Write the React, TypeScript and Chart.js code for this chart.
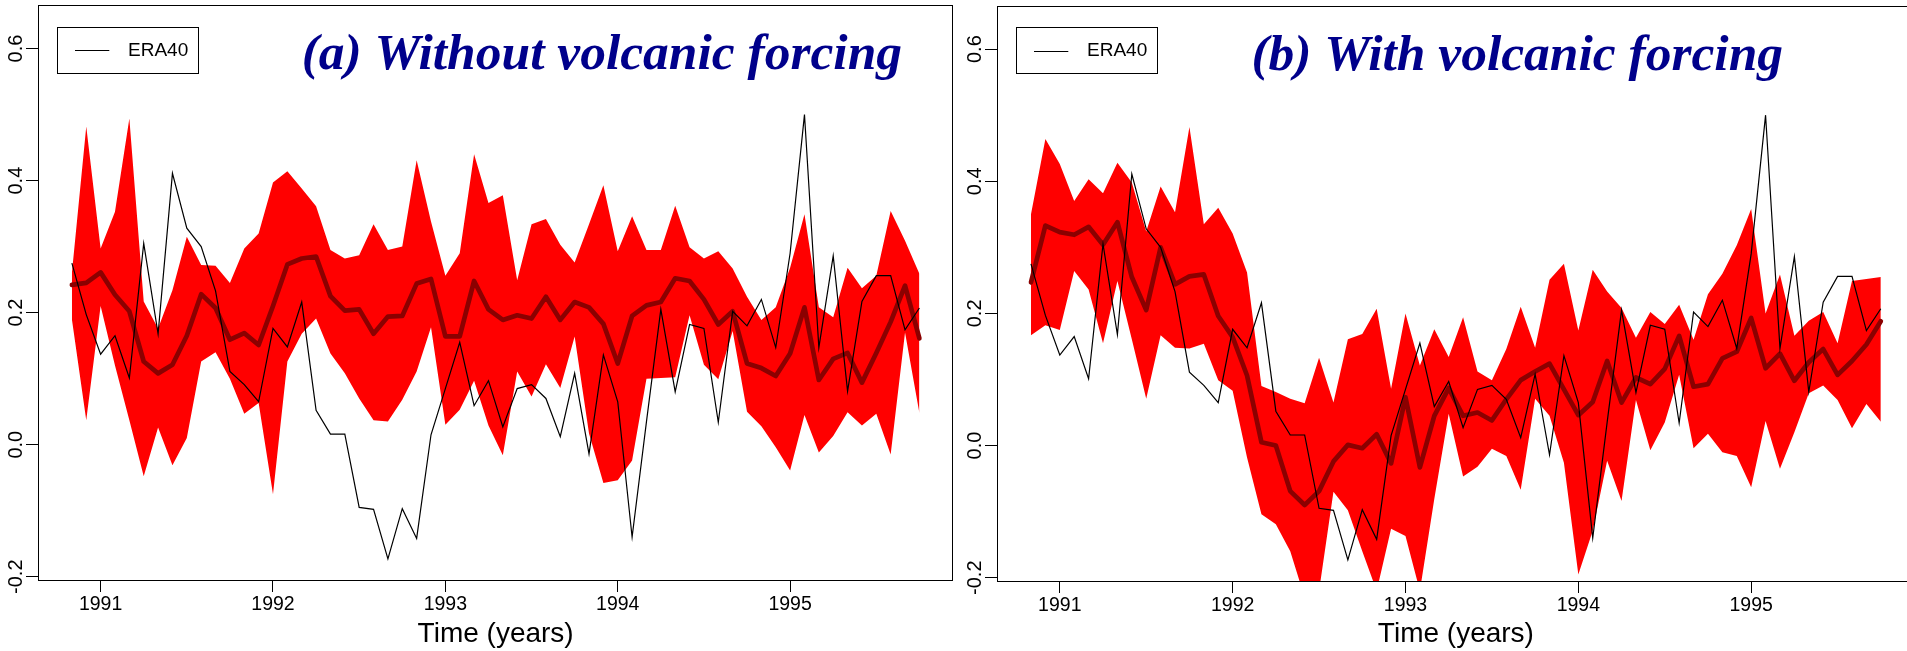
import React, { useEffect, useRef } from "react";
import { Chart, registerables } from "chart.js";

Chart.register(...registerables);

// ---------- data ----------
// monthly time axis: Nov 1990 .. Oct 1995
const startYear = 1990;
const startMonthIndex = 10; // November (0-based months / 12)
const monthCount = 60;
const times: number[] = Array.from({ length: monthCount }, (_, i) => startYear + (startMonthIndex + i) / 12);

const era40 = [
  0.275, 0.197, 0.137, 0.165, 0.101, 0.305, 0.168, 0.411, 0.328, 0.3,
  0.233, 0.111, 0.091, 0.065, 0.176, 0.148, 0.216, 0.052, 0.016, 0.016,
  -0.095, -0.098, -0.173, -0.097, -0.142, 0.015, 0.085, 0.155, 0.059, 0.097,
  0.027, 0.085, 0.091, 0.07, 0.012, 0.108, -0.014, 0.136, 0.065, -0.14,
  0.035, 0.205, 0.08, 0.182, 0.176, 0.034, 0.202, 0.18, 0.22, 0.147,
  0.29, 0.5, 0.147, 0.286, 0.081, 0.217, 0.256, 0.256, 0.174, 0.207,
];

// (a) without volcanic forcing: ensemble mean, upper and lower envelope
const noVolcMean = [
  0.242, 0.245, 0.261, 0.227, 0.202, 0.126, 0.108, 0.121, 0.165, 0.228,
  0.207, 0.159, 0.169, 0.151, 0.21, 0.273, 0.282, 0.285, 0.225, 0.203,
  0.205, 0.168, 0.194, 0.195, 0.244, 0.251, 0.164, 0.164, 0.248, 0.205,
  0.189, 0.196, 0.191, 0.224, 0.189, 0.216, 0.208, 0.183, 0.123, 0.195,
  0.211, 0.216, 0.252, 0.248, 0.22, 0.182, 0.202, 0.123, 0.116, 0.104,
  0.138, 0.208, 0.098, 0.13, 0.139, 0.094, 0.139, 0.186, 0.241, 0.161,
];
const noVolcUpper = [
  0.26, 0.482, 0.297, 0.353, 0.494, 0.217, 0.176, 0.234, 0.315, 0.272,
  0.271, 0.245, 0.297, 0.32, 0.397, 0.414, 0.388, 0.361, 0.295, 0.282,
  0.287, 0.334, 0.295, 0.3, 0.431, 0.338, 0.256, 0.29, 0.44, 0.366,
  0.378, 0.249, 0.334, 0.342, 0.303, 0.276, 0.334, 0.393, 0.293, 0.346,
  0.295, 0.295, 0.362, 0.299, 0.282, 0.293, 0.267, 0.224, 0.189, 0.208,
  0.268, 0.349, 0.208, 0.193, 0.268, 0.237, 0.256, 0.354, 0.309, 0.259,
];
const noVolcLower = [
  0.19, 0.037, 0.21, 0.12, 0.037, -0.048, 0.026, -0.031, 0.01, 0.126,
  0.14, 0.1, 0.047, 0.063, -0.075, 0.126, 0.168, 0.191, 0.138, 0.108,
  0.07, 0.037, 0.035, 0.068, 0.111, 0.178, 0.03, 0.053, 0.097, 0.029,
  -0.016, 0.111, 0.073, 0.122, 0.086, 0.164, 0.017, -0.058, -0.054, -0.024,
  0.1, 0.101, 0.102, 0.196, 0.121, 0.099, 0.172, 0.05, 0.028, -0.004,
  -0.039, 0.045, -0.012, 0.013, 0.049, 0.029, 0.047, -0.015, 0.17, 0.048,
];

// (b) with volcanic forcing
const volcMean = [
  0.247, 0.333, 0.323, 0.319, 0.331, 0.304, 0.338, 0.255, 0.205, 0.3,
  0.244, 0.256, 0.259, 0.196, 0.164, 0.106, 0.005, 0.0, -0.069, -0.09,
  -0.069, -0.024, 0.001, -0.004, 0.017, -0.027, 0.073, -0.033, 0.045, 0.087,
  0.045, 0.05, 0.038, 0.07, 0.099, 0.112, 0.124, 0.085, 0.046, 0.066,
  0.128, 0.065, 0.103, 0.093, 0.116, 0.166, 0.089, 0.093, 0.132, 0.142,
  0.193, 0.117, 0.139, 0.098, 0.126, 0.146, 0.107, 0.128, 0.153, 0.188,
];
const volcUpper = [
  0.35, 0.464, 0.426, 0.37, 0.403, 0.382, 0.428, 0.398, 0.324, 0.392,
  0.353, 0.482, 0.335, 0.36, 0.321, 0.262, 0.09, 0.081, 0.071, 0.064,
  0.133, 0.065, 0.161, 0.169, 0.207, 0.086, 0.2, 0.121, 0.176, 0.134,
  0.194, 0.112, 0.099, 0.146, 0.21, 0.148, 0.251, 0.275, 0.174, 0.266,
  0.233, 0.208, 0.163, 0.202, 0.184, 0.213, 0.16, 0.229, 0.26, 0.303,
  0.358, 0.2, 0.259, 0.166, 0.189, 0.202, 0.155, 0.249, 0.252, 0.255,
];
const volcLower = [
  0.167, 0.182, 0.175, 0.264, 0.236, 0.155, 0.249, 0.161, 0.071, 0.167,
  0.148, 0.147, 0.154, 0.099, 0.083, -0.018, -0.104, -0.119, -0.16, -0.23,
  -0.22, -0.07, -0.098, -0.16, -0.22, -0.126, -0.137, -0.22, -0.081, 0.048,
  -0.047, -0.032, -0.005, -0.016, -0.067, 0.071, 0.045, -0.026, -0.195, -0.129,
  -0.023, -0.084, 0.069, -0.007, 0.035, 0.107, -0.004, 0.018, -0.01, -0.016,
  -0.063, 0.037, -0.035, 0.02, 0.079, 0.091, 0.069, 0.026, 0.063, 0.036,
];

const xTickValues = [1991, 1992, 1993, 1994, 1995];
const yTickValues = [-0.2, 0.0, 0.2, 0.4, 0.6];
const yTickLabels = ["-0.2", "0.0", "0.2", "0.4", "0.6"];
const xAxisTitle = "Time (years)";
const legendLabel = "ERA40";
const panelTitles = ["(a) Without volcanic forcing", "(b) With volcanic forcing"];

// ---------- styling / layout ----------
const SANS = "'Liberation Sans', Arial, Helvetica, sans-serif";
const SERIF = "'Liberation Serif', 'Times New Roman', serif";
const X_MIN = 1990.6367;
const X_MAX = 1995.9467;
const Y_MIN = -0.205;
const Y_MAX = 0.666;

type PanelLayout = {
  left: number;
  width: number;
  yAxisW: number;
  padTop: number;
  padRight: number;
  xAxisH: number;
  titleDX: number;
};

const layouts: PanelLayout[] = [
  { left: 0, width: 955, yAxisW: 38, padTop: 5, padRight: 1.7, xAxisH: 71, titleDX: 263.7 },
  { left: 955, width: 965, yAxisW: 42, padTop: 5.5, padRight: 5.2, xAxisH: 70, titleDX: 254.4 },
];

const pts = (arr: number[]) => arr.map((y, i) => ({ x: times[i], y }));

function Panel({ layout, title, mean, upper, lower }: { layout: PanelLayout; title: string; mean: number[]; upper: number[]; lower: number[] }) {
  const ref = useRef<HTMLCanvasElement | null>(null);
  useEffect(() => {
    if (!ref.current) return;
    const decor = {
      id: "decor",
      afterDraw(chart: any) {
        const { ctx, chartArea: ca } = chart;
        const ys = chart.scales.y;
        ctx.save();
        // frame
        ctx.strokeStyle = "#000";
        ctx.lineWidth = 1;
        const l = Math.round(ca.left) + 0.5;
        const t = Math.round(ca.top) + 0.5;
        const r = Math.round(ca.right) - 0.5;
        const b = Math.round(ca.bottom) + 0.5;
        ctx.strokeRect(l, t, r - l, b - t);
        // rotated y tick labels
        ctx.fillStyle = "#000";
        ctx.font = `20px ${SANS}`;
        yTickValues.forEach((v, i) => {
          const py = ys.getPixelForValue(v);
          ctx.save();
          ctx.translate(ca.left - 16, py);
          ctx.rotate(-Math.PI / 2);
          ctx.textAlign = "center";
          ctx.textBaseline = "alphabetic";
          ctx.fillText(yTickLabels[i], 0, 0);
          ctx.restore();
        });
        // legend
        const bx = Math.round(ca.left + 19.3) + 0.5;
        const by = Math.round(ca.top + 21.7) + 0.5;
        ctx.fillStyle = "#fff";
        ctx.fillRect(bx, by, 141, 46);
        ctx.strokeStyle = "#000";
        ctx.lineWidth = 1;
        ctx.strokeRect(bx, by, 141, 46);
        ctx.beginPath();
        ctx.moveTo(ca.left + 37, Math.round(ca.top + 45) + 0.5);
        ctx.lineTo(ca.left + 71.3, Math.round(ca.top + 45) + 0.5);
        ctx.stroke();
        ctx.fillStyle = "#000";
        ctx.font = `19px ${SANS}`;
        ctx.textAlign = "left";
        ctx.textBaseline = "middle";
        ctx.fillText(legendLabel, ca.left + 90, ca.top + 45.5);
        // title
        ctx.fillStyle = "#00008B";
        ctx.font = `italic bold 51.5px ${SERIF}`;
        ctx.textAlign = "left";
        ctx.textBaseline = "alphabetic";
        ctx.fillText(title, ca.left + layout.titleDX, ca.top + 64);
        ctx.restore();
      },
    };
    const chart = new Chart(ref.current, {
      type: "line",
      data: {
        datasets: [
          {
            label: legendLabel,
            data: pts(era40),
            borderColor: "#000",
            borderWidth: 1.2,
            pointRadius: 0,
            tension: 0,
            fill: false,
            order: 0,
          },
          {
            label: "mean",
            data: pts(mean),
            borderColor: "#8B0000",
            borderWidth: 4.7,
            borderJoinStyle: "round",
            borderCapStyle: "round",
            pointRadius: 0,
            tension: 0,
            fill: false,
            order: 1,
          },
          {
            label: "upper",
            data: pts(upper),
            borderColor: "rgba(0,0,0,0)",
            borderWidth: 1,
            backgroundColor: "#FF0000",
            pointRadius: 0,
            tension: 0,
            fill: "+1",
            order: 2,
          },
          {
            label: "lower",
            data: pts(lower),
            borderColor: "rgba(0,0,0,0)",
            borderWidth: 1,
            pointRadius: 0,
            tension: 0,
            fill: false,
            order: 3,
          },
        ],
      } as any,
      options: {
        animation: false,
        responsive: false,
        maintainAspectRatio: false,
        devicePixelRatio: 1,
        layout: { padding: { top: layout.padTop, right: layout.padRight, left: 0, bottom: 0 } },
        plugins: { legend: { display: false }, tooltip: { enabled: false } },
        scales: {
          x: {
            type: "linear",
            min: X_MIN,
            max: X_MAX,
            afterBuildTicks: (s: any) => {
              s.ticks = xTickValues.map((v) => ({ value: v }));
            },
            afterFit: (s: any) => {
              s.height = layout.xAxisH;
            },
            grid: { display: true, drawOnChartArea: false, drawTicks: true, tickLength: 12, color: "#000", lineWidth: 1 },
            border: { display: false },
            ticks: {
              autoSkip: false,
              maxRotation: 0,
              minRotation: 0,
              padding: 1,
              color: "#000",
              font: { family: SANS, size: 19.5 },
              callback: (v: any) => String(v),
            },
            title: {
              display: true,
              text: xAxisTitle,
              color: "#000",
              font: { family: SANS, size: 28 },
              padding: { top: 0, bottom: 0 },
            },
          },
          y: {
            type: "linear",
            min: Y_MIN,
            max: Y_MAX,
            afterBuildTicks: (s: any) => {
              s.ticks = yTickValues.map((v) => ({ value: v }));
            },
            afterFit: (s: any) => {
              s.width = layout.yAxisW;
            },
            grid: { display: true, drawOnChartArea: false, drawTicks: true, tickLength: 12, color: "#000", lineWidth: 1 },
            border: { display: false },
            ticks: { display: false },
          },
        },
      } as any,
      plugins: [decor],
    });
    return () => chart.destroy();
  }, []);
  return (
    <canvas
      ref={ref}
      width={layout.width}
      height={651}
      style={{ position: "absolute", left: layout.left, top: 0, width: layout.width, height: 651 }}
    />
  );
}

export default function App() {
  return (
    <div style={{ position: "fixed", left: 0, top: 0, width: 1907, height: 651, overflow: "hidden", background: "#fff" }}>
      <Panel layout={layouts[0]} title={panelTitles[0]} mean={noVolcMean} upper={noVolcUpper} lower={noVolcLower} />
      <Panel layout={layouts[1]} title={panelTitles[1]} mean={volcMean} upper={volcUpper} lower={volcLower} />
    </div>
  );
}
